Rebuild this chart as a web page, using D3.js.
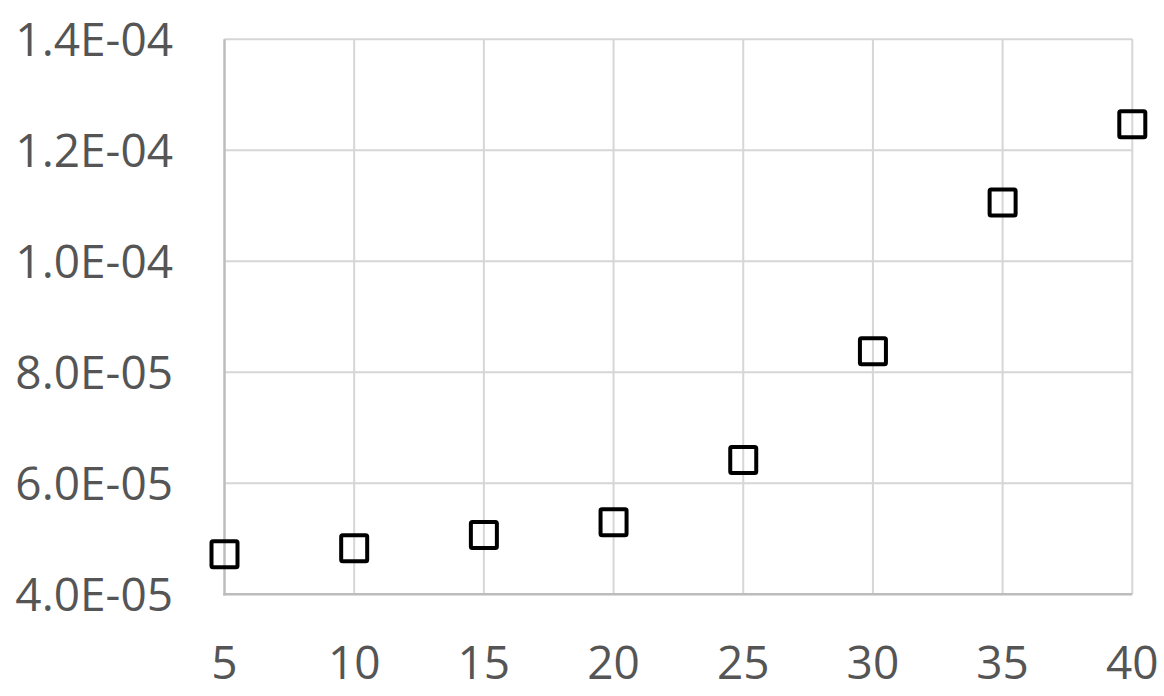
<!DOCTYPE html>
<html><head><meta charset="utf-8">
<script src="https://cdn.jsdelivr.net/npm/d3@7"></script>
<style>html,body{margin:0;padding:0;background:#fff;}</style>
</head><body>
<svg id="chart" width="1164" height="696"></svg>
<script>
const xValues = [5, 10, 15, 20, 25, 30, 35, 40];
const yValues = [4.72e-5, 4.83e-5, 5.07e-5, 5.30e-5, 6.42e-5, 8.38e-5, 1.106e-4, 1.247e-4];
const xTicks = [5, 10, 15, 20, 25, 30, 35, 40];
const yTicks = [4e-5, 6e-5, 8e-5, 1e-4, 1.2e-4, 1.4e-4];
const yTickLabels = ["4.0E-05", "6.0E-05", "8.0E-05", "1.0E-04", "1.2E-04", "1.4E-04"];

const svg = d3.select("#chart");
const x = d3.scaleLinear().domain([5, 40]).range([224.5, 1132.3]);
const y = d3.scaleLinear().domain([4e-5, 1.4e-4]).range([594.3, 39.3]);
const font = "'Open Sans', sans-serif";

// horizontal gridlines
svg.append("g").selectAll("line").data(yTicks.slice(1)).join("line")
  .attr("x1", x(5)).attr("x2", x(40))
  .attr("y1", d => y(d)).attr("y2", d => y(d))
  .attr("stroke", "#d6d6d6").attr("stroke-width", 2);
// vertical gridlines
svg.append("g").selectAll("line").data(xTicks.slice(1)).join("line")
  .attr("x1", d => x(d)).attr("x2", d => x(d))
  .attr("y1", y(1.4e-4)).attr("y2", y(4e-5))
  .attr("stroke", "#d6d6d6").attr("stroke-width", 2);
// axes lines
svg.append("line").attr("x1", x(5)).attr("x2", x(5)).attr("y1", y(1.4e-4)).attr("y2", y(4e-5) + 1.2)
  .attr("stroke", "#bcbcbc").attr("stroke-width", 2.5);
svg.append("line").attr("x1", x(5) - 1.2).attr("x2", x(40)).attr("y1", y(4e-5)).attr("y2", y(4e-5))
  .attr("stroke", "#bcbcbc").attr("stroke-width", 2.5);

// y labels
svg.append("g").selectAll("text").data(yTicks).join("text")
  .attr("x", 173).attr("y", d => y(d) + 16.5)
  .attr("text-anchor", "end")
  .attr("font-family", font).attr("font-size", 46).attr("font-weight", 500).attr("fill", "#555555")
  .text((d, i) => yTickLabels[i]);
// x labels
svg.append("g").selectAll("text").data(xTicks).join("text")
  .attr("x", d => x(d)).attr("y", 679)
  .attr("text-anchor", "middle")
  .attr("font-family", font).attr("font-size", 46).attr("font-weight", 500).attr("fill", "#555555")
  .text(d => d);

// markers
const s = 26;
svg.append("g").selectAll("rect").data(xValues.map((v, i) => [v, yValues[i]])).join("rect")
  .attr("x", d => x(d[0]) - s / 2).attr("y", d => y(d[1]) - s / 2)
  .attr("width", s).attr("height", s).attr("rx", 1.5)
  .attr("fill", "none").attr("stroke", "#000").attr("stroke-width", 4);
</script>
</body></html>
